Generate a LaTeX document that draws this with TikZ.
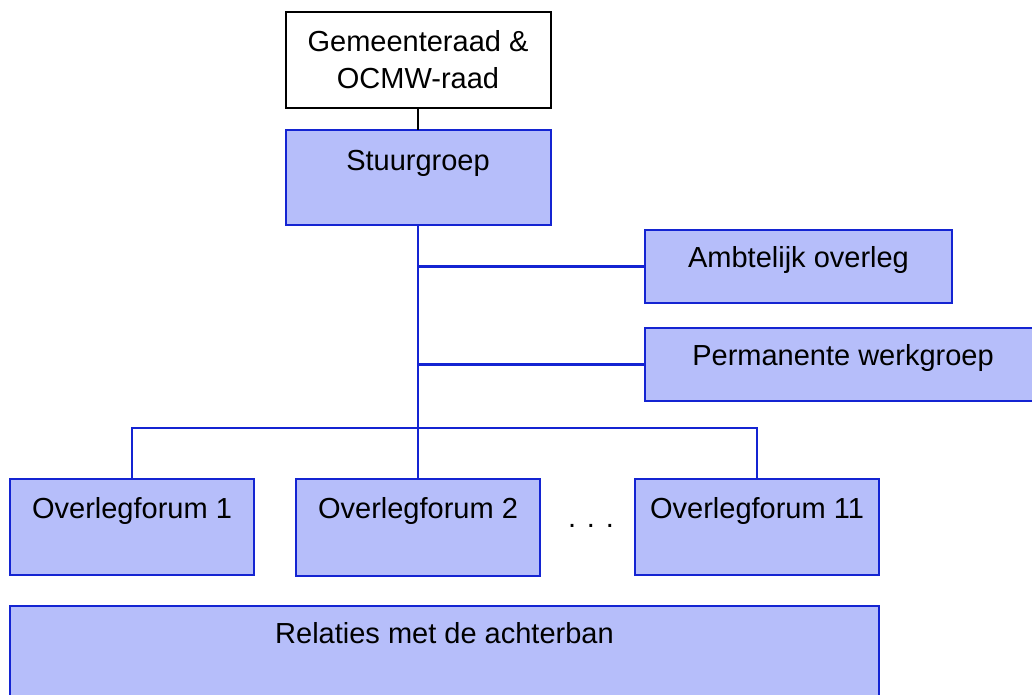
\documentclass[tikz,border=0pt]{standalone}
\usepackage{fontspec}
\setmainfont{Liberation Sans}
\definecolor{boxfill}{RGB}{182,190,250}
\definecolor{boxline}{RGB}{20,36,210}
\begin{document}
\begin{tikzpicture}[x=1pt,y=-1pt,
  every node/.style={font=\fontsize{29}{37}\selectfont, inner sep=0pt, outer sep=0pt},
  bluebox/.style={draw=boxline, fill=boxfill, line width=2pt, anchor=north west},
  whitebox/.style={draw=black, fill=white, line width=2pt, anchor=north west},
  conn/.style={draw=boxline, line width=2.2pt},
  blackconn/.style={draw=black, line width=2.2pt}]
\useasboundingbox (0,0) rectangle (1032,694);
\fill[white] (0,0) rectangle (1032,694);
\clip (0,0) rectangle (1032,694);
% boxes
\node[whitebox, minimum width=265pt, minimum height=96pt, align=center] (gem) at (285.5,12) {Gemeenteraad \&\\OCMW-raad};
\node[bluebox, minimum width=265pt, text height=40pt, text depth=55pt] (stuur) at (285.5,130) {Stuurgroep};
\node[bluebox, minimum width=307pt, text height=37pt, text depth=36pt] (amb) at (645,230) {Ambtelijk overleg};
\node[bluebox, minimum width=396pt, text height=37pt, text depth=36pt] (perm) at (645,328) {Permanente werkgroep};
\node[bluebox, minimum width=244pt, text height=39pt, text depth=57pt] (of1) at (10,479) {Overlegforum 1};
\node[bluebox, minimum width=244pt, text height=39pt, text depth=58pt] (of2) at (296,479) {Overlegforum 2};
\node[bluebox, minimum width=244pt, text height=39pt, text depth=57pt] (of11) at (635,479) {Overlegforum 11};
\node[bluebox, minimum width=869pt, text height=37pt, text depth=73pt] (rel) at (10,606) {Relaties met de achterban};
\node[anchor=base] (dots) at (591,527) {. . .};
% junction
\coordinate (jy) at (0,428);
\coordinate (j) at (stuur.south |- jy);
% connectors
\draw[blackconn] (gem.south) -- (stuur.north);
\draw[conn] (stuur.south) -- (j);
\draw[conn] (amb.west) -- (amb.west -| stuur.south);
\draw[conn] (perm.west) -- (perm.west -| stuur.south);
\draw[conn] (of1.north) |- (j) -| (of11.north);
\draw[conn] (j) -- (of2.north);
\end{tikzpicture}
\end{document}
